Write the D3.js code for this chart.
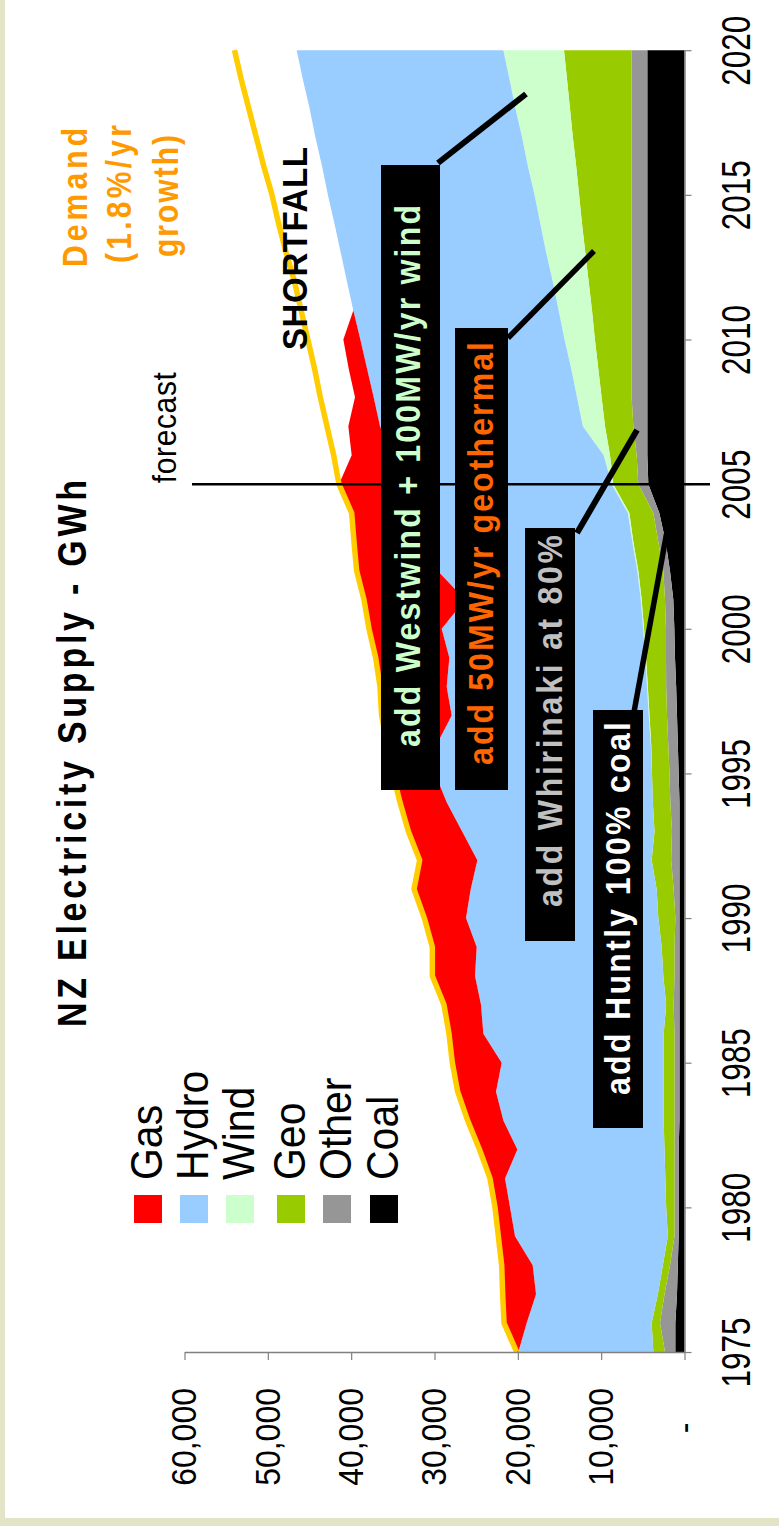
<!DOCTYPE html>
<html>
<head>
<meta charset="utf-8">
<script src="https://cdn.jsdelivr.net/npm/d3@7"></script>
<style>
  html, body { margin: 0; padding: 0; background: #ffffff; }
  svg { display: block; }
</style>
</head>
<body>
<div id="chart"></div>
<script>
// ---------------- DATA (GWh) ----------------
const years = [1975,1976,1977,1978,1979,1980,1981,1982,1983,1984,1985,1986,1987,1988,1989,1990,1991,1992,1993,1994,1995,1996,1997,1998,1999,2000,2001,2002,2003,2004,2005,2006,2007,2008,2009,2010,2011,2012,2013,2014,2015,2016,2017,2018,2019,2020];

const coal  = [1100,1100,900,800,700,700,700,700,600,600,600,600,600,600,600,600,600,600,600,600,700,800,900,1000,1140,1220,1340,1740,2260,3020,4340,4460,4460,4460,4460,4460,4460,4460,4460,4460,4460,4460,4460,4460,4460,4460];
const other = [1240,1840,1500,940,500,500,500,500,600,600,600,600,700,600,600,500,700,1000,900,1100,1100,1150,1200,1200,1080,1000,1000,800,880,720,1200,1280,1680,1880,1880,1880,1880,1880,1880,1880,1880,1880,1880,1880,1880,1880];
const geo   = [1400,1000,800,860,800,1000,1100,1200,1300,1300,1300,1300,900,1340,1540,2040,2040,2340,2100,2100,2100,2050,2100,2200,2400,2640,2800,3000,3000,2880,3000,3200,3400,3610,4010,4410,4760,5160,5560,5960,6310,6660,7060,7410,7760,8120];
const wind  = [0,0,0,0,0,0,0,0,0,0,0,0,0,0,0,0,0,0,0,0,0,50,100,100,100,100,110,120,120,180,200,760,2660,2950,3250,3650,4000,4300,4700,5000,5350,5800,6100,6550,6900,7280];
const hydro = [16200,15000,14620,15620,18340,18740,19240,17660,19240,20120,19440,21640,22220,22600,22200,23080,22320,20920,23100,24740,26040,25690,23640,24040,23500,24180,21090,23940,24740,25200,24760,25300,24340,24400,24500,24500,24640,24700,24650,24700,24800,24700,24800,24700,24800,24800];
const gas   = [200,2720,4000,3720,2000,1800,1800,4540,4280,4600,5920,4120,4440,5120,5320,5000,6800,6920,6440,5600,5060,5960,8400,8000,8840,8720,12120,9740,8660,7940,7960,4940,3800,2240,2200,2040,0,0,0,0,0,0,0,0,0,0];
const demand= [20140,21660,21820,21940,22340,22740,23340,24600,26020,27220,27860,28260,28860,30260,30260,31220,32460,31780,33140,34140,35000,35700,36340,36540,37060,37860,38460,39340,39660,39940,41460,42100,42900,43700,44400,45200,46000,46800,47800,48700,49500,50500,51400,52300,53200,54000];

const seriesKeys   = ["coal","other","geo","wind","hydro","gas"];
const legendKeys   = ["gas","hydro","wind","geo","other","coal"];
const legendLabels = ["Gas","Hydro","Wind","Geo","Other","Coal"];
const valueTicks   = [0,10000,20000,30000,40000,50000,60000];
const yearTicks    = [1975,1980,1985,1990,1995,2000,2005,2010,2015,2020];
const forecastYear = 2005;

const titleText = "NZ Electricity Supply - GWh";
const notes = [
  {text:"add Westwind + 100MW/yr wind", color:"#CCFFCC"},
  {text:"add 50MW/yr geothermal",       color:"#FF6600"},
  {text:"add Whirinaki at 80%",         color:"#C0C0C0"},
  {text:"add Huntly 100% coal",         color:"#FFFFFF"}
];
const demandLabel = ["Demand","(1.8%/yr","growth)"];

// ---------------- STYLE / LAYOUT ----------------
const colors = {gas:"#FF0000", hydro:"#99CCFF", wind:"#CCFFCC", geo:"#99CC00", other:"#969696", coal:"#000000"};
const W = 779, H = 1526;
const FONT = "'Liberation Sans', Arial, Helvetica, sans-serif";

const svg = d3.select("#chart").append("svg")
  .attr("width", W).attr("height", H)
  .attr("viewBox", `0 0 ${W} ${H}`);

svg.append("rect").attr("width", W).attr("height", H).attr("fill", "#ffffff");
svg.append("rect").attr("x", 0).attr("y", 0).attr("width", 5).attr("height", H).attr("fill", "#E3E3C7");
svg.append("rect").attr("x", 0).attr("y", 1518).attr("width", W).attr("height", 8).attr("fill", "#E3E3C7");

// Rotated chart: years run bottom->top, values run right->left
const yS = d3.scaleLinear().domain([1975, 2020]).range([1352, 50.2]);
const xS = d3.scaleLinear().domain([0, 60000]).range([684.5, 184.5]);

const table = years.map((yr, i) => ({
  year: yr, coal: coal[i], other: other[i], geo: geo[i], wind: wind[i], hydro: hydro[i], gas: gas[i]
}));
const stacked = d3.stack().keys(seriesKeys)(table);

const area = d3.area()
  .y(d => yS(d.data.year))
  .x0(d => xS(d[0]))
  .x1(d => xS(d[1]));

const plot = svg.append("g");
plot.selectAll("path.area")
  .data(stacked)
  .join("path")
  .attr("class", "area")
  .attr("fill", d => colors[d.key])
  .attr("d", area);

// demand line
const line = d3.line()
  .y((d, i) => yS(years[i]))
  .x(d => xS(d));
plot.append("path")
  .datum(demand)
  .attr("fill", "none")
  .attr("stroke", "#FFCC00")
  .attr("stroke-width", 5.5)
  .attr("stroke-linejoin", "round")
  .attr("d", line);

// rotated text helper
function rtext(parent, x, y, str, o) {
  const t = parent.append("text")
    .attr("transform", `translate(${x},${y}) rotate(-90) scale(1,${o.sy || 1})`)
    .attr("text-anchor", o.anchor || "start")
    .attr("font-family", FONT)
    .attr("font-size", o.size)
    .attr("font-weight", o.weight || "normal")
    .attr("fill", o.fill || "#000")
    .text(str);
  if (o.len) t.attr("textLength", o.len).attr("lengthAdjust", "spacing");
  return t;
}

// ---------------- AXES ----------------
const valueAxis = d3.axisBottom(xS)
  .tickValues(valueTicks)
  .tickSize(8)
  .tickSizeOuter(0)
  .tickFormat(d => d === 0 ? "-" : d3.format(",")(d));
const gv = svg.append("g").attr("transform", "translate(0,1352)").call(valueAxis);
gv.select(".domain").attr("stroke", "#808080").attr("stroke-width", 1.5);
gv.selectAll(".tick line").attr("stroke", "#808080").attr("stroke-width", 1.2);
gv.selectAll(".tick text")
  .attr("x", 0).attr("y", 0).attr("dy", "0.32em")
  .attr("font-family", FONT).attr("font-size", 32).attr("fill", "#000")
  .attr("text-anchor", d => d === 0 ? "middle" : "end")
  .attr("transform", d => d === 0 ? "translate(0,76) rotate(-90) scale(1,1.12)" : "translate(0,36) rotate(-90) scale(1,1.12)");

const yearAxis = d3.axisRight(yS)
  .tickValues(yearTicks)
  .tickSize(7)
  .tickSizeOuter(0)
  .tickFormat(d3.format("d"));
const gy = svg.append("g").attr("transform", "translate(684.5,0)").call(yearAxis);
gy.select(".domain").attr("stroke", "#808080").attr("stroke-width", 1.5);
gy.selectAll(".tick line").attr("stroke", "#808080").attr("stroke-width", 1.2);
gy.selectAll(".tick text")
  .attr("x", 0).attr("y", 0).attr("dy", 0)
  .attr("font-family", FONT).attr("font-size", 31.5).attr("fill", "#000")
  .attr("text-anchor", "middle")
  .attr("transform", "translate(65.5,0) rotate(-90) scale(1,1.29)");

// ---------------- ANNOTATIONS ----------------
const ann = svg.append("g");
const fy = yS(forecastYear);
ann.append("line").attr("x1", 192).attr("x2", 710).attr("y1", fy).attr("y2", fy)
  .attr("stroke", "#000").attr("stroke-width", 2.5);
rtext(ann, 176, fy - 1, "forecast", {size: 30, sy: 1.12, len: 111});

// boxes
const boxes = [
  {x: 381, y: 165, w: 59, h: 625, base: 420, start: 747, len: 542},
  {x: 455, y: 328, w: 53, h: 462, base: 493, start: 765, len: 423},
  {x: 525, y: 528, w: 50, h: 413, base: 562, start: 907, len: 372},
  {x: 593, y: 710, w: 50, h: 418, base: 630, start: 1095, len: 373}
];
const connectors = [
  [438, 163, 526, 94, 6],
  [508, 338, 594, 251, 5.5],
  [577, 533, 637, 430, 6],
  [634, 712, 666.5, 534, 5.5]
];
connectors.forEach(c => {
  ann.append("line").attr("x1", c[0]).attr("y1", c[1]).attr("x2", c[2]).attr("y2", c[3])
    .attr("stroke", "#000").attr("stroke-width", c[4]);
});
boxes.forEach((b, i) => {
  ann.append("rect").attr("x", b.x).attr("y", b.y).attr("width", b.w).attr("height", b.h).attr("fill", "#000");
  rtext(ann, b.base, b.start, notes[i].text, {size: 32, sy: 1.09, weight: "bold", fill: notes[i].color, len: b.len});
});

// shortfall & demand label
rtext(ann, 307, 350, "SHORTFALL", {size: 33, sy: 1.06, weight: "bold", len: 203});
const dl = [{base: 87, c: 197.5, len: 139}, {base: 131, c: 194, len: 138}, {base: 178, c: 196, len: 122}];
dl.forEach((d, i) => {
  rtext(ann, d.base, d.c + d.len / 2, demandLabel[i], {size: 30, sy: 1.15, weight: "bold", fill: "#FF9900", len: d.len});
});

// title
rtext(svg, 86, 1027, titleText, {size: 34, sy: 1.19, weight: "bold", len: 547});

// legend
const legX = [134, 180, 226, 277, 323, 370];
const leg = svg.append("g");
legendKeys.forEach((k, i) => {
  leg.append("rect").attr("x", legX[i]).attr("y", 1195).attr("width", 28).attr("height", 28).attr("fill", colors[k]);
  rtext(leg, legX[i] + 28, 1180, legendLabels[i], {size: 41, sy: 1.07});
});
</script>
</body>
</html>
